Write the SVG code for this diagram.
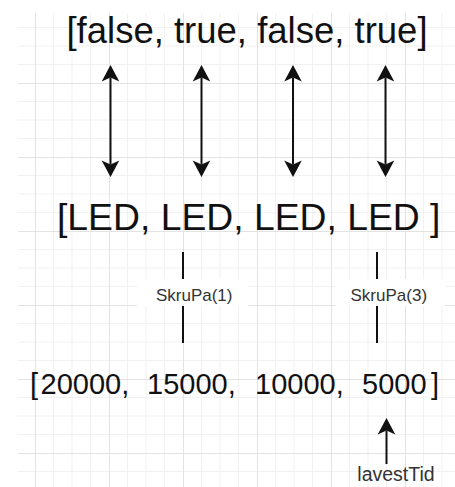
<svg xmlns="http://www.w3.org/2000/svg" width="455" height="487" viewBox="0 0 455 487">
  <style>
    .big { font-family: "Liberation Sans", Arial, sans-serif; fill: #111; }
    .lbl { font-family: "Liberation Sans", Arial, sans-serif; fill: #333; font-size: 17px; text-anchor: middle; }
    .conn { stroke: #111; stroke-width: 2; fill: none; }
    .minor { stroke: #f1f1f1; stroke-width: 1; }
    .major { stroke: #e3e3e3; stroke-width: 1; }
  </style>
  <defs>
    <pattern id="grid" patternUnits="userSpaceOnUse" x="35" y="9" width="74" height="74">
      <line class="minor" x1="18.5" y1="0" x2="18.5" y2="74"/>
      <line class="minor" x1="37" y1="0" x2="37" y2="74"/>
      <line class="minor" x1="55.5" y1="0" x2="55.5" y2="74"/>
      <line class="minor" x1="0" y1="18.5" x2="74" y2="18.5"/>
      <line class="minor" x1="0" y1="37" x2="74" y2="37"/>
      <line class="minor" x1="0" y1="55.5" x2="74" y2="55.5"/>
      <line class="major" x1="0.5" y1="0" x2="0.5" y2="74"/>
      <line class="major" x1="0" y1="0.5" x2="74" y2="0.5"/>
    </pattern>
    <marker id="arr" markerUnits="userSpaceOnUse" markerWidth="17" markerHeight="18" refX="4" refY="8.8" orient="auto-start-reverse" overflow="visible">
      <path d="M0,0 L16.5,8.8 L0,17.6 L4,8.8 Z" fill="#111"/>
    </marker>
  </defs>

  <rect x="0" y="0" width="455" height="487" fill="#ffffff"/>
  <rect x="18" y="13" width="437" height="474" fill="url(#grid)"/>

  <g id="connectors">
    <line class="conn" x1="110.5" y1="77.5" x2="110.5" y2="164.5" marker-start="url(#arr)" marker-end="url(#arr)"/>
    <line class="conn" x1="201.5" y1="77.5" x2="201.5" y2="164.5" marker-start="url(#arr)" marker-end="url(#arr)"/>
    <line class="conn" x1="293" y1="77.5" x2="293" y2="164.5" marker-start="url(#arr)" marker-end="url(#arr)"/>
    <line class="conn" x1="385.5" y1="77.5" x2="385.5" y2="164.5" marker-start="url(#arr)" marker-end="url(#arr)"/>
    <line class="conn" x1="183" y1="252" x2="183" y2="343"/>
    <line class="conn" x1="377" y1="252" x2="377" y2="343"/>
    <line class="conn" x1="386.5" y1="464" x2="386.5" y2="430.5" marker-end="url(#arr)"/>
    <g id="label-skrupa1">
      <rect x="137" y="279" width="111" height="27" fill="#ffffff"/>
      <text class="lbl" x="194.2" y="301">SkruPa(1)</text>
    </g>
    <g id="label-skrupa3">
      <rect x="335" y="279" width="110" height="27" fill="#ffffff"/>
      <text class="lbl" x="388.8" y="301">SkruPa(3)</text>
    </g>
  </g>

  <g id="bools">
    <text class="big" x="247" y="43" font-size="36.5" text-anchor="middle">[false, true, false, true]</text>
  </g>
  <g id="leds">
    <text class="big" x="57" y="229.5" font-size="37.3">[LED, LED, LED, LED ]</text>
  </g>
  <g id="times">
    <text class="big" y="394" font-size="29"><tspan x="30">[</tspan><tspan x="40.5">20000,</tspan><tspan x="147">15000,</tspan><tspan x="255">10000,</tspan><tspan x="362">5000</tspan><tspan x="431">]</tspan></text>
  </g>
  <g id="lavestTid">
    <text class="lbl" x="396" y="481" style="font-size:19.5px">lavestTid</text>
  </g>
</svg>
